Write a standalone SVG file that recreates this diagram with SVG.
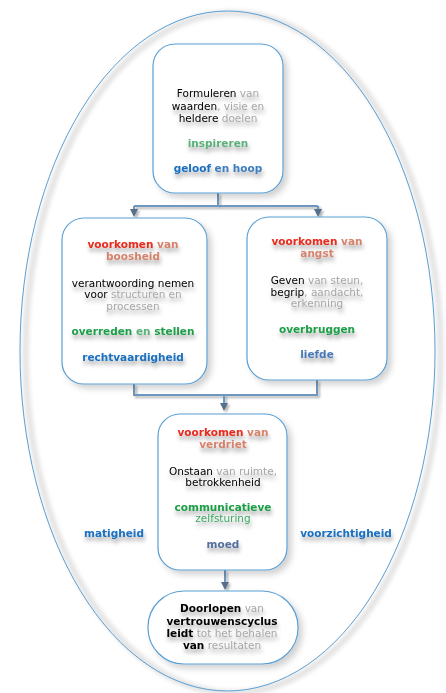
<svg xmlns="http://www.w3.org/2000/svg" width="446" height="693" viewBox="0 0 446 693">
<defs>
<filter id="boxsh" x="-20%" y="-20%" width="140%" height="140%">
<feDropShadow dx="4" dy="4" stdDeviation="3" flood-color="#000" flood-opacity="0.18"/>
</filter>
<filter id="txtsh" x="-10%" y="-50%" width="120%" height="250%">
<feDropShadow dx="1" dy="4" stdDeviation="2" flood-color="#000" flood-opacity="0.35"/>
</filter>
<filter id="blur" filterUnits="userSpaceOnUse" x="0" y="0" width="446" height="693"><feGaussianBlur stdDeviation="2"/></filter>
<filter id="linesh" filterUnits="userSpaceOnUse" x="0" y="0" width="446" height="693">
<feDropShadow dx="2" dy="2" stdDeviation="1.2" flood-color="#000" flood-opacity="0.3"/>
</filter>
<marker id="arr" markerWidth="8" markerHeight="8" refX="4" refY="4" orient="auto" markerUnits="userSpaceOnUse">
<path d="M0,0 L8,4 L0,8 z" fill="#56708c"/>
</marker>
</defs>
<style>
.box{fill:#fff;stroke:#5a9fd4;stroke-width:1.2;filter:url(#boxsh)}
.t{font-family:"DejaVu Sans",Verdana,sans-serif;font-size:10.5px;text-anchor:middle;filter:url(#txtsh)}
.b{font-weight:bold}
.k{fill:#000}
.g{fill:#a6a6a6}
.red{fill:#e8291c;font-weight:bold}
.sal{fill:#d4826c;font-weight:bold}
.gd{fill:#1e9e48;font-weight:bold}
.gl{fill:#5bb07a}
.bl{fill:#1a6fc0;font-weight:bold}
.conn{fill:none;stroke:#6d98c0;stroke-width:2;filter:url(#linesh)}
</style>
<rect width="446" height="693" fill="#fff"/>
<g id="outer">
<ellipse cx="233" cy="353" rx="207.5" ry="340" fill="none" stroke="#e2e2e2" stroke-width="6" filter="url(#blur)"/>
<ellipse cx="227.5" cy="351" rx="207.5" ry="340" fill="none" stroke="#5a9fd4" stroke-width="1"/>
</g>
<g id="connectors">
<path class="conn" d="M218,193 V206 M134,206 H318"/>
<path class="conn" d="M134,206 V213" marker-end="url(#arr)"/>
<path class="conn" d="M318,206 V213" marker-end="url(#arr)"/>
<path class="conn" d="M134,384 V395 H317 V380"/>
<path class="conn" d="M224,395 V407" marker-end="url(#arr)"/>
<path class="conn" d="M225,570 V586" marker-end="url(#arr)"/>
</g>
<g id="n-top">
<rect class="box" x="153" y="44" width="130" height="149" rx="22"/>
<text class="t" x="218" y="97"><tspan class="k">Formuleren</tspan><tspan class="g"> van</tspan></text>
<text class="t" x="218" y="109.5"><tspan class="k">waarden</tspan><tspan class="g">, visie en</tspan></text>
<text class="t" x="218" y="122"><tspan class="k">heldere</tspan><tspan class="g"> doelen</tspan></text>
<text class="t b" x="218" y="147" fill="#5bb07a">inspireren</text>
<text class="t b" x="218" y="172"><tspan fill="#1a6fc0">geloof</tspan><tspan fill="#3f7dbd"> en hoop</tspan></text>
</g>
<g id="n-left">
<rect class="box" x="62" y="218" width="145" height="166" rx="22"/>
<text class="t" x="133" y="248"><tspan class="red">voorkomen</tspan><tspan class="sal"> van</tspan></text>
<text class="t sal" x="133" y="260">boosheid</text>
<text class="t" x="133" y="287"><tspan class="k">verantwoording nemen</tspan></text>
<text class="t" x="133" y="298"><tspan class="k">voor</tspan><tspan class="g"> structuren en</tspan></text>
<text class="t g" x="133" y="309.5">processen</text>
<text class="t" x="133" y="335"><tspan class="gd">overreden</tspan><tspan class="gl b"> en </tspan><tspan class="gd">stellen</tspan></text>
<text class="t bl" x="133" y="361">rechtvaardigheid</text>
</g>
<g id="n-right">
<rect class="box" x="247" y="217" width="140" height="163" rx="22"/>
<text class="t" x="317" y="245"><tspan class="red">voorkomen</tspan><tspan class="sal"> van</tspan></text>
<text class="t sal" x="317" y="257">angst</text>
<text class="t" x="317" y="284"><tspan class="k">Geven</tspan><tspan class="g"> van steun,</tspan></text>
<text class="t" x="317" y="295.5"><tspan class="k">begrip</tspan><tspan class="g">, aandacht,</tspan></text>
<text class="t g" x="317" y="307">erkenning</text>
<text class="t gd" x="317" y="333">overbruggen</text>
<text class="t b" x="317" y="358" fill="#4a7ab8">liefde</text>
</g>
<g id="n-mid">
<rect class="box" x="158" y="414" width="129" height="156" rx="22"/>
<text class="t" x="223" y="436"><tspan class="red">voorkomen</tspan><tspan class="sal"> van</tspan></text>
<text class="t sal" x="223" y="448">verdriet</text>
<text class="t" x="223" y="475"><tspan class="k">Onstaan</tspan><tspan class="g"> van ruimte,</tspan></text>
<text class="t k" x="223" y="486">betrokkenheid</text>
<text class="t gd" x="223" y="511">communicatieve</text>
<text class="t" x="223" y="522" fill="#3aa864">zelfsturing</text>
<text class="t b" x="223" y="548" fill="#56709e">moed</text>
</g>
<g id="n-bottom">
<rect class="box" x="148" y="591" width="150" height="73" rx="36"/>
<text class="t" x="222" y="612"><tspan class="k b">Doorlopen</tspan><tspan class="g"> van</tspan></text>
<text class="t k b" x="222" y="625">vertrouwenscyclus</text>
<text class="t" x="222" y="637"><tspan class="k b">leidt</tspan><tspan class="g"> tot het behalen</tspan></text>
<text class="t" x="222" y="649"><tspan class="k b">van</tspan><tspan class="g"> resultaten</tspan></text>
</g>
<g id="labels">
<text class="t bl" x="114" y="537">matigheid</text>
<text class="t bl" x="346" y="537">voorzichtigheid</text>
</g>
</svg>
